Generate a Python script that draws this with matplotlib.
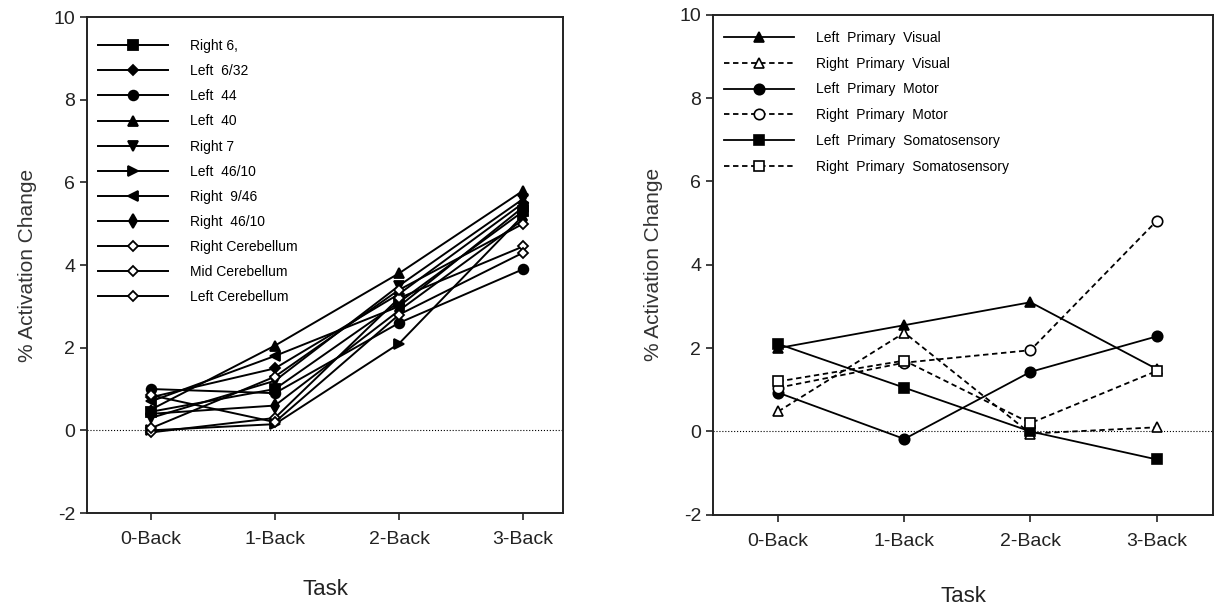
import matplotlib
matplotlib.use("Agg")
import matplotlib.pyplot as plt

plt.rcParams['font.family'] = ['Liberation Sans', 'DejaVu Sans']
plt.rcParams['axes.unicode_minus'] = False

tasks = ["0-Back", "1-Back", "2-Back", "3-Back"]

# left panel: working-memory regions
left_names = ["Right 6,", "Left  6/32", "Left  44", "Left  40", "Right 7",
              "Left  46/10", "Right  9/46", "Right  46/10",
              "Right Cerebellum", "Mid Cerebellum", "Left Cerebellum"]
right6 = [0.45, 1.0, 3.1, 5.3]
left632 = [0.8, 1.5, 3.3, 5.5]
left44 = [1.0, 0.9, 2.6, 3.9]
left40 = [0.5, 2.05, 3.8, 5.8]
right7 = [0.3, 1.2, 3.5, 5.6]
left4610 = [0.0, 0.15, 2.1, 5.2]
right946 = [0.7, 1.8, 3.0, 5.4]
right4610 = [0.4, 0.6, 2.9, 5.1]
right_cb = [-0.05, 0.3, 3.2, 4.45]
mid_cb = [0.85, 0.2, 2.8, 4.3]
left_cb = [0.05, 1.3, 3.4, 5.0]
left_vals = [right6, left632, left44, left40, right7, left4610,
             right946, right4610, right_cb, mid_cb, left_cb]

# right panel: primary sensory/motor regions
right_names = ["Left  Primary  Visual", "Right  Primary  Visual",
               "Left  Primary  Motor", "Right  Primary  Motor",
               "Left  Primary  Somatosensory", "Right  Primary  Somatosensory"]
l_visual = [2.0, 2.55, 3.1, 1.5]
r_visual = [0.48, 2.37, -0.05, 0.1]
l_motor = [0.93, -0.18, 1.43, 2.28]
r_motor = [1.05, 1.65, 1.95, 5.05]
l_somato = [2.1, 1.05, 0.0, -0.67]
r_somato = [1.2, 1.7, 0.2, 1.45]
right_vals = [l_visual, r_visual, l_motor, r_motor, l_somato, r_somato]

x = list(range(len(tasks)))

fig = plt.figure(figsize=(12.17, 6.10), dpi=100)
ax1 = fig.add_axes([0.0715, 0.159, 0.391, 0.813])
ax2 = fig.add_axes([0.586, 0.156, 0.411, 0.820])

# marker, size, face
left_style = [('s', 7, 'k'), ('D', 5.5, 'k'), ('o', 7, 'k'), ('^', 7.5, 'k'),
              ('v', 7.5, 'k'), ('>', 7.5, 'k'), ('<', 7.5, 'k'), ('d', 7, 'k'),
              ('D', 5, 'white'), ('D', 5, 'white'), ('D', 5, 'white')]
for name, vals, (m, ms, fc) in zip(left_names, left_vals, left_style):
    ax1.plot(x, vals, color='k', lw=1.4, marker=m, ms=ms, mfc=fc,
             mec='k', mew=1.3, label=name)

right_style = [('^', '-', 'k'), ('^', '--', 'white'), ('o', '-', 'k'),
               ('o', '--', 'white'), ('s', '-', 'k'), ('s', '--', 'white')]
for name, vals, (m, ls, fc) in zip(right_names, right_vals, right_style):
    ax2.plot(x, vals, color='k', lw=1.3, ls=ls, dashes=(3, 2) if ls == '--' else (None, None),
             marker=m, ms=7.5, mfc=fc, mec='k', mew=1.2, label=name)

for ax, xr in [(ax1, (-0.514, 3.32)), (ax2, (-0.516, 3.45))]:
    ax.axhline(0, color='k', lw=0.8, ls=':', zorder=0)
    ax.set_xlim(*xr)
    ax.set_ylim(-2, 10)
    ax.set_yticks([-2, 0, 2, 4, 6, 8, 10])
    ax.set_xticks(x)
    ax.set_xticklabels(tasks)
    ax.tick_params(direction='out', length=5, width=1.2, labelsize=14, colors='#222')
    ax.tick_params(axis='x', pad=8)
    for s in ax.spines.values():
        s.set_linewidth(1.4)
        s.set_color('#222')
    ax.set_ylabel("% Activation Change", fontsize=15, color='#333', labelpad=12)

ax1.set_xlabel("Task", fontsize=16, color='#222', labelpad=22)
ax2.set_xlabel("Task", fontsize=16, color='#222', labelpad=26)

ax1.legend(loc='upper left', frameon=False, fontsize=10, handlelength=5,
           handletextpad=1.6, labelspacing=0.80, borderaxespad=0.4,
           bbox_to_anchor=(0.0, 0.978))
ax2.legend(loc='upper left', frameon=False, fontsize=10, handlelength=5,
           handletextpad=1.6, labelspacing=0.85, borderaxespad=0.4,
           bbox_to_anchor=(0.0, 0.99))

fig.savefig("out.png", dpi=100)
